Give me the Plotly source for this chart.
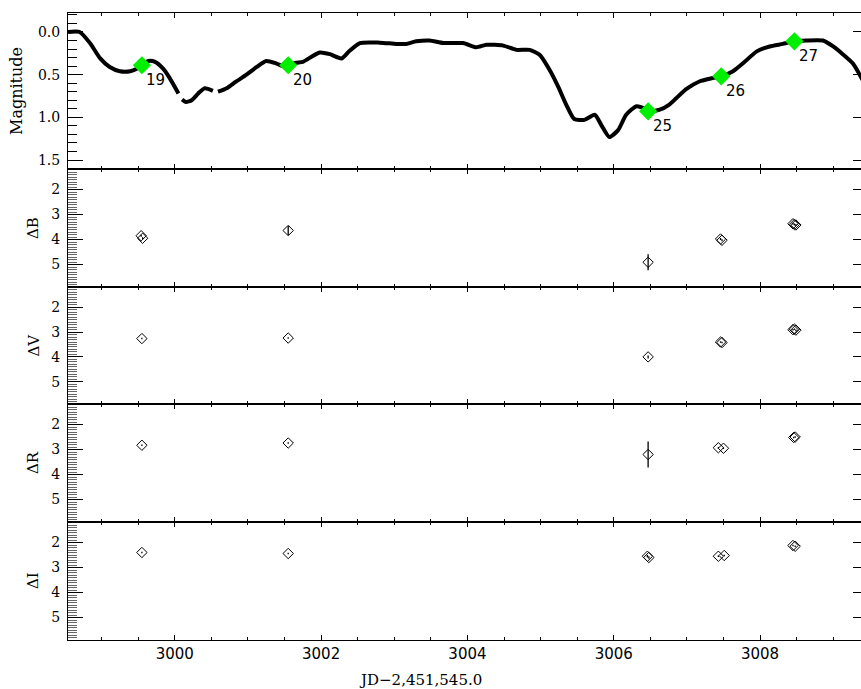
import plotly.graph_objects as go
from plotly.subplots import make_subplots

# ---------------- data ----------------
# light curve (JD-2451545.0, magnitude); None = gap
lc_jd = [2998.54, 2998.70, 2998.84, 2998.98, 2999.11, 2999.25, 2999.39, 2999.48, 2999.55,
         2999.64, 2999.73, 2999.84, 2999.93, 3000.05, None,
         3000.10, 3000.15, 3000.23, 3000.32, 3000.41, 3000.52, None,
         3000.59, 3000.71, 3000.84, 3000.98, 3001.12, 3001.25, 3001.39, 3001.48, 3001.55,
         3001.66, 3001.75, 3001.98, 3002.12, 3002.28, 3002.39, 3002.53, 3002.80, 3003.03,
         3003.16, 3003.30, 3003.48, 3003.67, 3003.94, 3004.12, 3004.26, 3004.49, 3004.67,
         3004.85, 3004.99, 3005.12, 3005.24, 3005.35, 3005.46, 3005.60, 3005.74, 3005.83,
         3005.94, 3006.06, 3006.17, 3006.31, 3006.40, 3006.47, 3006.63, 3006.76, 3006.85,
         3006.99, 3007.17, 3007.35, 3007.47, 3007.63, 3007.79, 3007.95, 3008.13, 3008.31,
         3008.47, 3008.63, 3008.86, 3009.00, 3009.13, 3009.27, 3009.40]
lc_mag = [0.00, 0.00, 0.13, 0.31, 0.41, 0.46, 0.46, 0.43, 0.39,
          0.34, 0.35, 0.43, 0.54, 0.72, None,
          0.79, 0.82, 0.80, 0.72, 0.66, 0.69, None,
          0.70, 0.66, 0.58, 0.50, 0.41, 0.34, 0.37, 0.40, 0.39,
          0.36, 0.35, 0.24, 0.26, 0.31, 0.22, 0.13, 0.125, 0.14,
          0.14, 0.11, 0.10, 0.13, 0.13, 0.18, 0.15, 0.16, 0.21,
          0.21, 0.27, 0.44, 0.64, 0.85, 1.02, 1.03, 0.97, 1.09,
          1.23, 1.15, 0.97, 0.87, 0.89, 0.93, 0.91, 0.85, 0.78,
          0.67, 0.58, 0.54, 0.52, 0.46, 0.35, 0.23, 0.17, 0.14,
          0.11, 0.10, 0.10, 0.17, 0.26, 0.37, 0.56]

# epochs marked in green
ep_jd = [2999.55, 3001.55, 3006.47, 3007.47, 3008.47]
ep_mag = [0.39, 0.39, 0.93, 0.52, 0.11]
ep_lab = ["19", "20", "25", "26", "27"]

# photometric offsets
jd_B = [2999.54, 2999.56, 3001.55, 3006.47, 3007.46, 3007.48, 3008.45, 3008.47, 3008.49]
dB = [3.85, 3.95, 3.64, 4.91, 3.98, 4.03, 3.37, 3.40, 3.42]
eB = [0.04, 0.04, 0.18, 0.32, 0.04, 0.04, 0.04, 0.04, 0.04]

jd_V = [2999.55, 3001.55, 3006.47, 3007.46, 3007.48, 3008.45, 3008.47, 3008.49]
dV = [3.26, 3.24, 4.00, 3.40, 3.42, 2.90, 2.88, 2.92]
eV = [0.03, 0.03, 0.06, 0.03, 0.03, 0.03, 0.03, 0.03]

jd_R = [2999.55, 3001.55, 3006.47, 3007.43, 3007.50, 3008.46, 3008.48]
dR = [2.83, 2.74, 3.20, 2.93, 2.95, 2.52, 2.50]
eR = [0.03, 0.03, 0.52, 0.03, 0.03, 0.03, 0.03]

jd_I = [2999.55, 3001.55, 3006.46, 3006.48, 3007.43, 3007.51, 3008.45, 3008.48]
dI = [2.40, 2.44, 2.55, 2.60, 2.55, 2.52, 2.12, 2.15]
eI = [0.03, 0.03, 0.05, 0.05, 0.03, 0.03, 0.03, 0.03]

panel_titles = ["Magnitude", "\u0394B", "\u0394V", "\u0394R", "\u0394I"]
x_title = "JD\u22122,451,545.0"

# ---------------- figure ----------------
SERIF = "DejaVu Serif"
SANS = "DejaVu Sans"
XR = [2998.54, 3009.38]
TOP_R = [1.605, -0.222]
LOW_R = [5.9, 1.18]

fig = make_subplots(rows=5, cols=1, shared_xaxes=True, vertical_spacing=0,
                    row_heights=[156, 118, 117, 118, 118])

fig.add_trace(go.Scatter(x=lc_jd, y=lc_mag, mode="lines", connectgaps=False,
                         line=dict(color="black", width=4, shape="spline", smoothing=0.6),
                         showlegend=False, hoverinfo="skip"), row=1, col=1)
fig.add_trace(go.Scatter(x=ep_jd, y=ep_mag, mode="markers",
                         marker=dict(symbol="diamond", size=14, color="#00EE00"),
                         showlegend=False), row=1, col=1)

for i, (xs, ys, es) in enumerate([(jd_B, dB, eB), (jd_V, dV, eV), (jd_R, dR, eR), (jd_I, dI, eI)]):
    fig.add_trace(go.Scatter(x=xs, y=ys, mode="markers",
                             marker=dict(symbol="diamond-open", size=8, color="black",
                                         line=dict(width=1, color="black")),
                             error_y=dict(type="data", array=es, visible=True, width=0,
                                          thickness=1.3, color="black"),
                             showlegend=False), row=i + 2, col=1)

for r in range(1, 6):
    fig.update_xaxes(range=XR, showline=True, linecolor="black", linewidth=1, mirror="ticks",
                     ticks="inside", ticklen=5, tickwidth=1, tickcolor="black",
                     tick0=3000, dtick=2, showgrid=False, zeroline=False,
                     minor=dict(ticks="inside", ticklen=3, dtick=0.5, tickcolor="black", showgrid=False),
                     tickfont=dict(family=SANS, size=15, color="black"),
                     row=r, col=1)
    yr = TOP_R if r == 1 else LOW_R
    fig.update_yaxes(range=yr, showline=True, linecolor="black", linewidth=1, mirror=True,
                     ticks="inside", ticklen=15, tickwidth=1, tickcolor="black",
                     tick0=0, dtick=0.5 if r == 1 else 1,
                     tickformat=".1f" if r == 1 else "d",
                     showgrid=False, zeroline=False, ticklabelstandoff=4,
                     minor=dict(ticks="inside", ticklen=9, dtick=0.1,
                                tickcolor="black" if r == 1 else "#666666", showgrid=False),
                     tickfont=dict(family=SERIF, size=14, color="black"),
                     row=r, col=1)

# right-hand ticks (major only)
for r in range(1, 6):
    base = "y" if r == 1 else f"y{r}"
    xa = "x" if r == 1 else f"x{r}"
    name = f"yaxis{r + 5}"
    fig.update_layout(**{name: dict(overlaying=base, anchor=xa, side="right",
                                    range=TOP_R if r == 1 else LOW_R,
                                    tick0=0, dtick=0.5 if r == 1 else 1,
                                    ticks="inside", ticklen=8, tickcolor="black",
                                    showticklabels=False, showline=False,
                                    showgrid=False, zeroline=False)})
    fig.add_trace(go.Scatter(x=[None], y=[None], xaxis=xa, yaxis=f"y{r + 5}",
                             showlegend=False, hoverinfo="skip"))

annots = []
# epoch labels
for xv, yv, t in zip(ep_jd, ep_mag, ep_lab):
    annots.append(dict(x=xv, y=yv, xref="x", yref="y", text=t, showarrow=False,
                       xshift=14, yshift=-15, font=dict(family=SANS, size=15, color="black")))

# panel titles
W = 861 - 68
for r in range(1, 6):
    dom = fig.layout["yaxis" if r == 1 else f"yaxis{r}"].domain
    xc = 17 if r == 1 else 33
    annots.append(dict(x=(xc - 68) / W, y=(dom[0] + dom[1]) / 2, xref="paper", yref="paper",
                       text=panel_titles[r - 1], textangle=-90, showarrow=False,
                       xanchor="center", yanchor="middle",
                       font=dict(family=SERIF, size=16 if r == 1 else 15, color="black")))

annots.append(dict(x=(420 - 68) / W, y=-(680 - 640) / 627, xref="paper", yref="paper",
                   text=x_title, showarrow=False, xanchor="center", yanchor="middle",
                   font=dict(family=SERIF, size=15, color="black")))

fig.update_layout(width=861, height=689, margin=dict(l=68, r=0, t=13, b=49),
                  paper_bgcolor="white", plot_bgcolor="white",
                  annotations=annots, showlegend=False)

fig.write_html("out.html")
